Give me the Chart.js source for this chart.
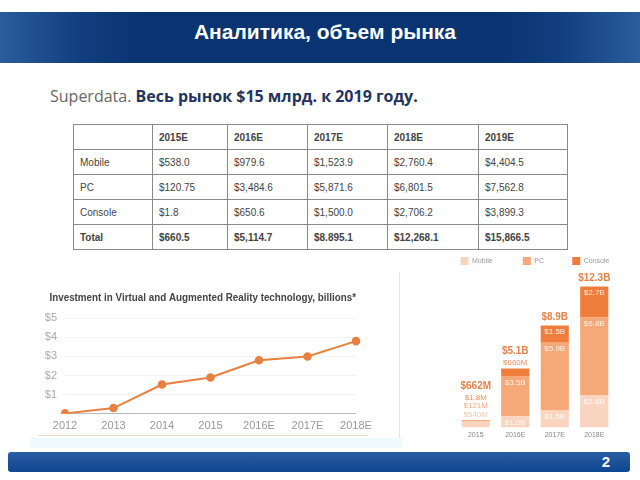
<!DOCTYPE html>
<html>
<head>
<meta charset="utf-8">
<script src="https://cdn.jsdelivr.net/npm/chart.js@4/dist/chart.umd.min.js"></script>
<style>
  body { margin: 0; width: 640px; height: 480px; background: #fff; position: relative; overflow: hidden; font-family: "Liberation Sans", Arial, sans-serif; }
  #header { position: absolute; left: 0; top: 12px; width: 640px; height: 51px;
    background: linear-gradient(90deg, #2c5c9c 0%, #123f80 12%, #0a3372 22%, #0a3372 78%, #123f80 88%, #2c5c9c 100%); }
  #header h1 { margin: 0; position: absolute; left: 0; width: 650px; top: 8px; text-align: center; color: #fff; font-size: 21px; font-weight: bold; }
  #sub { position: absolute; left: 50px; top: 85px; font-family: "Open Sans", sans-serif; font-size: 16px; color: #666; white-space: nowrap; }
  #sub b { color: #1f3560; }
  table { position: absolute; left: 73px; top: 124px; border-collapse: collapse; font-size: 10px; color: #444; }
  td { border: 1px solid #8a8a8a; height: 24px; padding: 0 0 0 6px; }
  tr:first-child td, tr:last-child td { font-weight: bold; }
  #lineBox { position: absolute; left: 44px; top: 276px; width: 356px; height: 163px; }
  #panelEdge { position: absolute; left: 399px; top: 272px; width: 1px; height: 166px; background: #e4e4e4; }
  #foot1 { position: absolute; left: 38px; top: 435px; width: 330px; height: 1px; background: #ecd9c0; }
  #cyan { position: absolute; left: 30px; top: 438px; width: 372px; height: 10px; background: #eefafb; }
  #barBox { position: absolute; left: 450px; top: 256px; width: 180px; height: 186px; }
  #footer { position: absolute; left: 8px; top: 452px; width: 622px; height: 20px; border-radius: 3px;
    background: linear-gradient(180deg, #2a5ea3 0%, #0e4690 100%); }
  #footer span { position: absolute; right: 20px; top: 1px; color: #fff; font-weight: bold; font-size: 15px; }
</style>
</head>
<body>
<div id="header"><h1>Аналитика, объем рынка</h1></div>
<div id="sub">Superdata. <b>Весь рынок $15 млрд. к 2019 году.</b></div>
<table id="tbl"></table>
<div id="cyan"></div>
<div id="panelEdge"></div>
<div id="foot1"></div>
<div id="lineBox"><canvas id="lineChart"></canvas></div>
<div id="barBox"><canvas id="barChart"></canvas></div>
<div id="footer"><span>2</span></div>
<script>
// Table data (Superdata, $M)
const tableYears = ["2015E", "2016E", "2017E", "2018E", "2019E"];
const tableRows = ["Mobile", "PC", "Console", "Total"];
const tableMobile = ["$538.0", "$979.6", "$1,523.9", "$2,760.4", "$4,404.5"];
const tablePC = ["$120.75", "$3,484.6", "$5,871.6", "$6,801.5", "$7,562.8"];
const tableConsole = ["$1.8", "$650.6", "$1,500.0", "$2,706.2", "$3,899.3"];
const tableTotal = ["$660.5", "$5,114.7", "$8.895.1", "$12,268.1", "$15,866.5"];

// Line chart data (billions)
const investYears = ["2012", "2013", "2014", "2015", "2016E", "2017E", "2018E"];
const investValues = [0.02, 0.3, 1.53, 1.9, 2.8, 3.0, 3.8];

// Stacked bar data (billions)
const barYears = ["2015", "2016E", "2017E", "2018E"];
const mobile = [0.54, 1.0, 1.5, 2.8];
const pc = [0.121, 3.5, 5.9, 6.8];
const consoleV = [0.0018, 0.66, 1.5, 2.7];
const mobileLabels = ["$540M", "$1.0B", "$1.5B", "$2.8B"];
const pcLabels = ["$121M", "$3.5B", "$5.9B", "$6.8B"];
const consoleLabels = ["$1.8M", "$660M", "$1.5B", "$2.7B"];
const totalLabels = ["$662M", "$5.1B", "$8.9B", "$12.3B"];

// Build table
const widths = [72, 68, 73, 73, 84, 82];
const tbl = document.getElementById("tbl");
let html = "<tr>";
html += '<td style="width:' + widths[0] + 'px"></td>';
for (let i = 0; i < tableYears.length; i++) {
  html += '<td style="width:' + widths[i + 1] + 'px">' + tableYears[i] + "</td>";
}
html += "</tr>";
const rowData = [tableMobile, tablePC, tableConsole, tableTotal];
for (let r = 0; r < tableRows.length; r++) {
  html += "<tr><td>" + tableRows[r] + "</td>";
  for (let i = 0; i < rowData[r].length; i++) html += "<td>" + rowData[r][i] + "</td>";
  html += "</tr>";
}
tbl.innerHTML = html;

Chart.defaults.font.family = '"Liberation Sans", Arial, sans-serif';

// Line chart
new Chart(document.getElementById("lineChart"), {
  type: "line",
  data: {
    labels: investYears,
    datasets: [{
      data: investValues,
      borderColor: "#e8803f",
      backgroundColor: "#e8803f",
      borderWidth: 2,
      pointRadius: 3.3,
      tension: 0,
    }],
  },
  options: {
    responsive: true,
    maintainAspectRatio: false,
    animation: false,
    layout: { padding: { left: 0, right: 44, top: 4, bottom: 0 } },
    plugins: {
      legend: { display: false },
      tooltip: { enabled: false },
      title: {
        display: true,
        align: "start",
        // two leading spaces indent the title a little past the tick labels
        text: "  Investment in Virtual and Augmented Reality technology, billions*",
        color: "#444",
        font: { size: 11, weight: "bold" },
        padding: { top: 11, bottom: 14 },
      },
    },
    scales: {
      x: {
        offset: false,
        grid: { display: false, drawTicks: false },
        border: { display: false },
        ticks: { color: "#999", font: { size: 11 }, padding: 6 },
      },
      y: {
        min: 0,
        max: 5,
        afterFit: function (scale) {
          scale.width = 21;
        },
        ticks: {
          stepSize: 1,
          color: "#aaa",
          font: { size: 11 },
          padding: 8,
          callback: function (value) {
            return value === 0 ? "" : "$" + value;
          },
        },
        grid: {
          drawTicks: false,
          color: function (ctx) {
            return ctx.tick.value === 0 ? "#bbb" : "#f2f2f2";
          },
        },
        border: { display: false },
      },
    },
  },
});

// Labels for stacked bars
const barLabelPlugin = {
  id: "barLabels",
  afterDatasetsDraw(chart) {
    const ctx = chart.ctx;
    const labelSets = [mobileLabels, pcLabels, consoleLabels];
    const outColors = ["#f6c9ad", "#f2ae86", "#ee9160"];
    ctx.save();
    ctx.textAlign = "center";
    ctx.textBaseline = "middle";
    for (let i = 0; i < barYears.length; i++) {
      let topY = null;
      let x = 0;
      const outside = [];
      for (let d = 0; d < 3; d++) {
        const bar = chart.getDatasetMeta(d).data[i];
        x = bar.x;
        const h = bar.base - bar.y;
        topY = bar.y;
        if (h > 9) {
          ctx.fillStyle = "rgba(255,255,255,0.85)";
          ctx.font = "8px 'Liberation Sans', Arial";
          ctx.fillText(labelSets[d][i], x, bar.y + 6.5);
        } else {
          outside.push(d);
        }
      }
      // small segments get their label stacked above the bar
      let y = topY - 5.5;
      for (let k = 0; k < outside.length; k++) {
        const d = outside[k];
        ctx.fillStyle = outColors[d];
        ctx.font = "8px 'Liberation Sans', Arial";
        ctx.fillText(labelSets[d][i], x, y);
        y -= 8.5;
      }
      const totalY = outside.length ? y - 3 : topY - 8;
      ctx.fillStyle = "#e5824e";
      ctx.font = "bold 10px 'Liberation Sans', Arial";
      ctx.fillText(totalLabels[i], x, totalY);
    }
    ctx.restore();
  },
};

// trailing spaces spread the legend items apart like the original
const legendGaps = [15, 14, 0];

// Stacked bar chart
new Chart(document.getElementById("barChart"), {
  type: "bar",
  data: {
    labels: barYears,
    datasets: [
      { label: "Mobile", data: mobile, backgroundColor: "#f9d5c0" },
      { label: "PC", data: pc, backgroundColor: "#f5a878" },
      { label: "Console", data: consoleV, backgroundColor: "#ef7d3c" },
    ],
  },
  options: {
    responsive: true,
    maintainAspectRatio: false,
    animation: false,
    layout: { padding: { left: 6, right: 16, top: 0, bottom: 0 } },
    datasets: { bar: { categoryPercentage: 0.75, barPercentage: 0.95 } },
    plugins: {
      tooltip: { enabled: false },
      legend: {
        display: true,
        position: "top",
        labels: {
          boxWidth: 8,
          boxHeight: 8,
          padding: 1,
          color: "#999",
          font: { size: 7 },
          generateLabels: function (chart) {
            const items = Chart.defaults.plugins.legend.labels.generateLabels(chart);
            items.forEach(function (item, i) {
              item.text = item.text + " ".repeat(legendGaps[i]);
            });
            return items;
          },
        },
      },
    },
    scales: {
      x: {
        stacked: true,
        grid: { display: false, drawTicks: false },
        border: { display: false },
        ticks: { color: "#888", font: { size: 7 }, padding: 3 },
      },
      y: { stacked: true, display: false, min: 0, max: 13.3 },
    },
  },
  plugins: [barLabelPlugin],
});
</script>
</body>
</html>
